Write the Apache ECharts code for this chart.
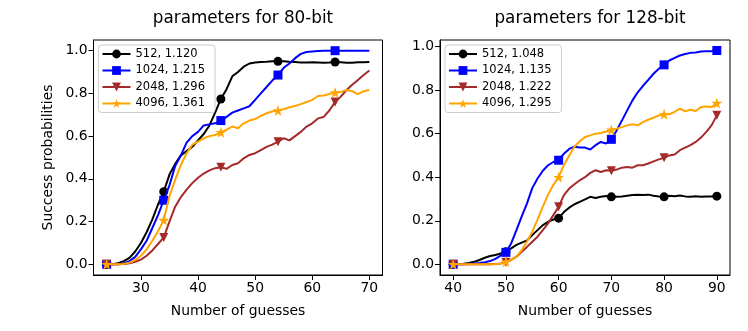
<!DOCTYPE html>
<html><head><meta charset="utf-8">
<script src="https://cdn.jsdelivr.net/npm/echarts@6/dist/echarts.min.js"></script>
<style>html,body{margin:0;padding:0;background:#fff}#c{width:748px;height:331px}</style>
</head><body><div id="c"></div>
<script>
const leftTitle = 'parameters for 80-bit';
const rightTitle = 'parameters for 128-bit';
const xLabel = 'Number of guesses';
const yLabel = 'Success probabilities';
const leftNames = ['512, 1.120', '1024, 1.215', '2048, 1.296', '4096, 1.361'];
const rightNames = ['512, 1.048', '1024, 1.135', '2048, 1.222', '4096, 1.295'];
const leftTicks = [30, 40, 50, 60, 70];
const rightTicks = [40, 50, 60, 70, 80, 90];
const yTicks = [0, 0.2, 0.4, 0.6, 0.8, 1.0];

const leftX = [24,25,26,27,28,29,30,31,32,33,34,35,36,37,38,39,40,41,42,43,44,45,46,47,48,49,50,51,52,53,54,55,56,57,58,59,60,61,62,63,64,65,66,67,68,69,70];
const left512 = [0,0,0.005,0.015,0.03,0.06,0.1,0.15,0.21,0.28,0.34,0.42,0.47,0.51,0.53,0.55,0.58,0.61,0.65,0.71,0.774,0.82,0.88,0.90,0.925,0.94,0.945,0.947,0.948,0.95,0.95,0.95,0.948,0.947,0.945,0.945,0.946,0.945,0.944,0.945,0.947,0.946,0.944,0.943,0.946,0.946,0.947];
const left1024 = [0,0,0,0.005,0.015,0.035,0.07,0.11,0.17,0.23,0.30,0.37,0.46,0.51,0.57,0.60,0.62,0.65,0.655,0.66,0.673,0.69,0.71,0.72,0.73,0.74,0.77,0.80,0.83,0.86,0.886,0.92,0.94,0.965,0.985,0.994,0.996,0.998,1.0,1.0,1.0,1.0,1.0,1.0,1.0,1.0,1.0];
const left2048 = [0,0,0,0.002,0.005,0.012,0.022,0.04,0.065,0.095,0.126,0.2,0.27,0.315,0.35,0.38,0.405,0.425,0.44,0.45,0.454,0.447,0.465,0.473,0.496,0.512,0.52,0.535,0.55,0.56,0.574,0.59,0.58,0.6,0.62,0.645,0.66,0.683,0.69,0.72,0.76,0.785,0.816,0.84,0.863,0.886,0.907];
const left4096 = [0,0,0,0.002,0.008,0.02,0.04,0.07,0.11,0.155,0.207,0.32,0.395,0.465,0.52,0.56,0.574,0.59,0.6,0.605,0.618,0.63,0.645,0.637,0.66,0.673,0.68,0.695,0.707,0.715,0.72,0.726,0.735,0.741,0.75,0.76,0.77,0.788,0.79,0.797,0.804,0.807,0.816,0.81,0.797,0.81,0.816];

const rightX = [40,41,42,43,44,45,46,47,48,49,50,51,52,53,54,55,56,57,58,59,60,61,62,63,64,65,66,67,68,69,70,71,72,73,74,75,76,77,78,79,80,81,82,83,84,85,86,87,88,89,90];
const right512 = [0,0.001,0.003,0.006,0.012,0.02,0.03,0.038,0.043,0.05,0.058,0.073,0.089,0.1,0.11,0.134,0.157,0.18,0.195,0.206,0.212,0.24,0.26,0.276,0.287,0.298,0.31,0.305,0.31,0.314,0.31,0.31,0.312,0.315,0.318,0.32,0.318,0.32,0.315,0.312,0.31,0.315,0.313,0.316,0.312,0.31,0.313,0.31,0.311,0.312,0.313];
const right1024 = [0,0,0,0.002,0.004,0.006,0.01,0.015,0.025,0.04,0.055,0.096,0.157,0.22,0.28,0.35,0.394,0.43,0.455,0.47,0.478,0.508,0.53,0.54,0.536,0.536,0.527,0.547,0.562,0.555,0.574,0.615,0.66,0.707,0.753,0.79,0.82,0.847,0.875,0.898,0.916,0.936,0.948,0.959,0.966,0.971,0.973,0.977,0.979,0.979,0.982];
const right2048 = [0,0,0,0,0,0,0,0,0.002,0.004,0.009,0.02,0.035,0.058,0.08,0.104,0.127,0.157,0.188,0.226,0.264,0.318,0.348,0.368,0.386,0.4,0.42,0.432,0.424,0.432,0.43,0.435,0.444,0.447,0.444,0.455,0.455,0.463,0.473,0.482,0.489,0.5,0.504,0.524,0.536,0.547,0.562,0.582,0.608,0.638,0.684];
const right4096 = [0,0,0,0,0,0,0,0,0.001,0.003,0.012,0.02,0.035,0.065,0.105,0.15,0.205,0.265,0.32,0.365,0.40,0.455,0.5,0.54,0.565,0.585,0.592,0.6,0.603,0.61,0.618,0.623,0.63,0.638,0.643,0.638,0.653,0.664,0.673,0.684,0.689,0.689,0.7,0.715,0.703,0.71,0.704,0.722,0.725,0.722,0.74];

const colors = ['#000000', '#0000ff', '#a52a2a', '#ffa500'];
const symbols = ['circle', 'rect', 'path://M0,0 L10,0 L5,10 Z',
  'path://M50,0 L61.2,34.5 L97.6,34.5 L68.2,55.9 L79.4,90.5 L50,69.1 L20.6,90.5 L31.8,55.9 L2.4,34.5 L38.8,34.5 Z'];
const symSizes = [9, 9, 9, 11];
const FONT = 'DejaVu Sans';

function mk(xs, ys, name, k, axisIdx) {
  return {
    type: 'line', name: name, xAxisIndex: axisIdx, yAxisIndex: axisIdx,
    data: xs.map((x, i) => i % 10 === 0 ? [x, ys[i]] : {value: [x, ys[i]], symbol: 'none'}),
    symbol: symbols[k], symbolSize: symSizes[k], showSymbol: true,
    color: colors[k],
    lineStyle: {color: colors[k], width: 2},
    itemStyle: {color: colors[k], borderWidth: 0, opacity: 1},
    z: 2 + k, animation: false, silent: true
  };
}

function xAxis(idx, min, max, ticks) {
  return {
    type: 'value', gridIndex: idx, min: min, max: max,
    name: xLabel, nameLocation: 'middle', nameGap: 29,
    nameTextStyle: {fontFamily: FONT, fontSize: 13.9, color: '#000'},
    axisLine: {show: true, onZero: false, lineStyle: {color: '#000', width: 1}},
    axisTick: {show: true, length: 5, customValues: ticks, lineStyle: {color: '#000'}},
    axisLabel: {customValues: ticks, fontFamily: FONT, fontSize: 13.9, color: '#000', margin: 6},
    splitLine: {show: false}
  };
}
function yAxis(idx, min, max, named) {
  return {
    type: 'value', gridIndex: idx, min: min, max: max,
    name: named ? yLabel : '', nameLocation: 'middle', nameGap: 38, nameRotate: 90,
    nameTextStyle: {fontFamily: FONT, fontSize: 13.9, color: '#000'},
    axisLine: {show: true, onZero: false, lineStyle: {color: '#000', width: 1}},
    axisTick: {show: true, length: 5, customValues: yTicks, lineStyle: {color: '#000'}},
    axisLabel: {customValues: yTicks, fontFamily: FONT, fontSize: 13.9, color: '#000', margin: 6,
      formatter: v => v.toFixed(1)},
    splitLine: {show: false}
  };
}
function legend(names, left) {
  return {
    data: names, orient: 'vertical', left: left, top: 45,
    itemWidth: 28, itemHeight: 11, itemGap: 4.5,
    padding: [3, 10, 3, 3],
    borderColor: '#cccccc', borderWidth: 1, borderRadius: 3, backgroundColor: 'rgba(255,255,255,0.8)',
    textStyle: {fontFamily: FONT, fontSize: 11.5, color: '#000', lineHeight: 12},
    selectedMode: false
  };
}

const chart = echarts.init(document.getElementById('c'), null, {renderer: 'canvas'});
chart.setOption({
  animation: false,
  backgroundColor: '#fff',
  title: [
    {text: leftTitle, left: 238, top: 5, textAlign: 'center', textStyle: {fontFamily: FONT, fontSize: 16.8, fontWeight: 'normal', color: '#000'}},
    {text: rightTitle, left: 585, top: 5, textAlign: 'center', textStyle: {fontFamily: FONT, fontSize: 16.8, fontWeight: 'normal', color: '#000'}}
  ],
  grid: [
    {left: 93.5, top: 40, width: 289, height: 235, show: true, borderColor: '#000', borderWidth: 1, backgroundColor: 'transparent'},
    {left: 440, top: 40, width: 290, height: 235, show: true, borderColor: '#000', borderWidth: 1, backgroundColor: 'transparent'}
  ],
  xAxis: [xAxis(0, 21.7, 72.3, leftTicks), xAxis(1, 37.5, 92.5, rightTicks)],
  yAxis: [yAxis(0, -0.05, 1.05, true), yAxis(1, -0.049, 1.0301, false)],
  legend: [legend(leftNames, 98.5), legend(rightNames, 445)],
  series: [
    mk(leftX, left512, leftNames[0], 0, 0),
    mk(leftX, left1024, leftNames[1], 1, 0),
    mk(leftX, left2048, leftNames[2], 2, 0),
    mk(leftX, left4096, leftNames[3], 3, 0),
    mk(rightX, right512, rightNames[0], 0, 1),
    mk(rightX, right1024, rightNames[1], 1, 1),
    mk(rightX, right2048, rightNames[2], 2, 1),
    mk(rightX, right4096, rightNames[3], 3, 1)
  ]
});
</script></body></html>
